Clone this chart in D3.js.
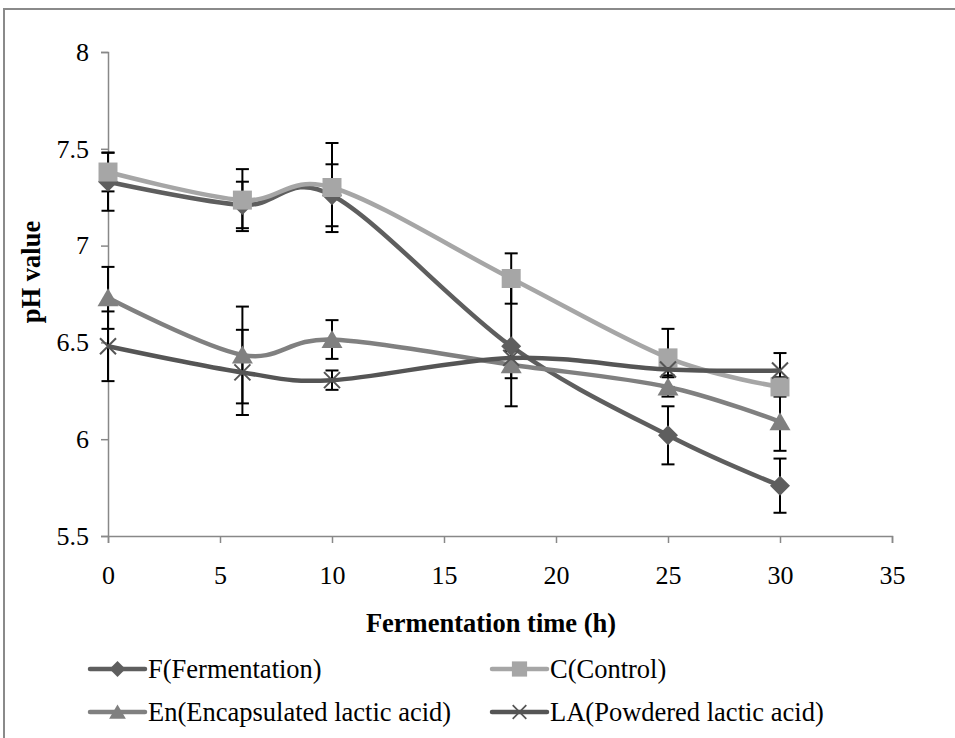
<!DOCTYPE html>
<html>
<head>
<meta charset="utf-8">
<script src="https://cdn.jsdelivr.net/npm/d3@7"></script>
<style>
  body { margin: 0; background: #fff; }
</style>
</head>
<body>
<div id="chart"></div>
<script>
// fermentation time (h)
var hours = [0, 6, 10, 18, 25, 30];

var fValues  = [7.33, 7.21, 7.26, 6.48, 6.02, 5.76];
var fErr     = [0.15, 0.12, 0.16, 0.31, 0.15, 0.14];
var cValues  = [7.38, 7.235, 7.30, 6.83, 6.42, 6.27];
var cErr     = [0.10, 0.16, 0.23, 0.13, 0.15, 0.05];
var enValues = [6.73, 6.435, 6.515, 6.385, 6.27, 6.09];
var enErr    = [0.16, 0.25, 0.10, 0.07, 0.05, 0.15];
var laValues = [6.48, 6.345, 6.305, 6.42, 6.36, 6.355];
var laErr    = [0.18, 0.22, 0.05, 0.05, 0.03, 0.09];

var seriesNames = ['F(Fermentation)', 'C(Control)', 'En(Encapsulated lactic acid)', 'LA(Powdered lactic acid)'];
var xTicks = [0, 5, 10, 15, 20, 25, 30, 35];
var yTicks = [5.5, 6, 6.5, 7, 7.5, 8];

var series = [
  {name: seriesNames[0], values: fValues,  err: fErr,  color: '#5e5e5e', marker: 'diamond'},
  {name: seriesNames[1], values: cValues,  err: cErr,  color: '#a6a6a6', marker: 'square'},
  {name: seriesNames[2], values: enValues, err: enErr, color: '#808080', marker: 'triangle'},
  {name: seriesNames[3], values: laValues, err: laErr, color: '#555555', marker: 'x'}
];

var FONT = 'Liberation Serif';

var W = 955, H = 738;
var margin = {top: 52, right: 63, bottom: 202, left: 108},
    width = W - margin.left - margin.right,
    height = H - margin.top - margin.bottom;

var svg = d3.select('#chart').append('svg')
    .attr('width', W)
    .attr('height', H);

// outer frame
svg.append('rect')
  .attr('x', 4).attr('y', 9)
  .attr('width', 970).attr('height', 760)
  .style('fill', 'none')
  .style('stroke', '#8a8a8a')
  .style('stroke-width', 2);

var g = svg.append('g')
    .attr('transform', 'translate(' + margin.left + ',' + margin.top + ')');

var x = d3.scaleLinear().domain([0, 35]).range([0, width]);
var y = d3.scaleLinear().domain([5.5, 8]).range([height, 0]);

// axes
var xAxis = g.append('g')
  .attr('transform', 'translate(0,' + height + ')')
  .call(d3.axisBottom(x).tickValues(xTicks).tickFormat(d3.format('')).tickSize(7).tickPadding(23).tickSizeOuter(7));
var yAxis = g.append('g')
  .call(d3.axisLeft(y).tickValues(yTicks).tickFormat(d3.format('')).tickSize(7).tickPadding(12).tickSizeOuter(7));

[xAxis, yAxis].forEach(function(a) {
  a.select('.domain').style('stroke', '#888').style('stroke-width', 1.5);
  a.selectAll('.tick line').style('stroke', '#888').style('stroke-width', 1.5);
  a.selectAll('.tick text')
    .style('font-family', FONT)
    .style('font-size', '26px')
    .style('fill', '#000');
});

// axis titles
svg.append('text')
  .attr('x', 491)
  .attr('y', 632)
  .attr('text-anchor', 'middle')
  .style('font-family', FONT)
  .style('font-weight', 'bold')
  .style('font-size', '26.5px')
  .text('Fermentation time (h)');

svg.append('text')
  .attr('transform', 'translate(40,272) rotate(-90)')
  .attr('text-anchor', 'middle')
  .style('font-family', FONT)
  .style('font-weight', 'bold')
  .style('font-size', '26.5px')
  .text('pH value');

function markerPath(type) {
  if (type === 'diamond') return 'M0,-10L10,0L0,10L-10,0Z';
  if (type === 'square') return 'M-9.5,-9.5H9.5V9.5H-9.5Z';
  if (type === 'triangle') return 'M0,-9.5L10.5,8.5H-10.5Z';
  return 'M-8,-8L8,8M-8,8L8,-8';
}

function drawMarker(sel, s) {
  if (s.marker === 'x') {
    sel.attr('d', markerPath('x'))
      .style('fill', 'none')
      .style('stroke', s.color)
      .style('stroke-width', 2);
  } else {
    sel.attr('d', markerPath(s.marker))
      .style('fill', s.color)
      .style('stroke', 'none');
  }
}

var line = d3.line()
  .x(function(d, i) { return x(hours[i]); })
  .y(function(d) { return y(d); })
  .curve(d3.curveCardinal.tension(0));

// error bars
series.forEach(function(s) {
  var eb = g.append('g');
  s.values.forEach(function(v, i) {
    var cx = x(hours[i]);
    var y1 = y(v + s.err[i]), y2 = y(v - s.err[i]);
    eb.append('line').attr('x1', cx).attr('x2', cx).attr('y1', y1).attr('y2', y2)
      .style('stroke', '#000').style('stroke-width', 2);
    eb.append('line').attr('x1', cx - 6.5).attr('x2', cx + 6.5).attr('y1', y1).attr('y2', y1)
      .style('stroke', '#000').style('stroke-width', 2);
    eb.append('line').attr('x1', cx - 6.5).attr('x2', cx + 6.5).attr('y1', y2).attr('y2', y2)
      .style('stroke', '#000').style('stroke-width', 2);
  });
});

// lines and markers
series.forEach(function(s) {
  g.append('path')
    .datum(s.values)
    .attr('d', line)
    .style('fill', 'none')
    .style('stroke', s.color)
    .style('stroke-width', 4.5)
    .style('stroke-linejoin', 'round');

  g.selectAll(null)
    .data(s.values)
    .enter().append('path')
    .attr('transform', function(d, i) { return 'translate(' + x(hours[i]) + ',' + y(d) + ')'; })
    .call(drawMarker, s);
});

// legend
var legendPos = [[90, 669], [492, 669], [90, 712], [492, 712]];
series.forEach(function(s, i) {
  var lg = svg.append('g').attr('transform', 'translate(' + legendPos[i][0] + ',' + legendPos[i][1] + ')');
  lg.append('line')
    .attr('x1', 0).attr('x2', 55).attr('y1', 0).attr('y2', 0)
    .style('stroke', s.color)
    .style('stroke-width', 4.5)
    .style('stroke-linecap', 'round');
  lg.append('path')
    .attr('transform', 'translate(27.5,0) scale(' + (s.marker === 'x' ? 0.85 : 0.8) + ')')
    .call(drawMarker, s);
  lg.append('text')
    .attr('x', 58)
    .attr('y', 0)
    .attr('dy', '0.34em')
    .style('font-family', FONT)
    .style('font-size', '26.5px')
    .text(s.name);
});
</script>
</body>
</html>
